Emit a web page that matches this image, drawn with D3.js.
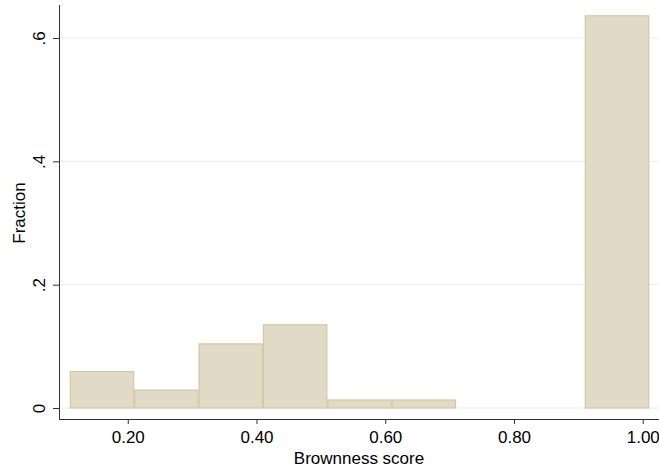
<!DOCTYPE html>
<html>
<head>
<meta charset="utf-8">
<script src="https://cdn.jsdelivr.net/npm/d3@7"></script>
<style>
	body { margin: 0; background: #fff; }
	text { font-family: "Liberation Sans", Arial, sans-serif; fill: #000; }
</style>
</head>
<body>
<script>
const binStarts = [0.11, 0.21, 0.31, 0.41, 0.51, 0.61, 0.71, 0.81, 0.91];
const fractions = [0.059, 0.029, 0.104, 0.135, 0.013, 0.013, 0, 0, 0.636];
const xTicks = [0.2, 0.4, 0.6, 0.8, 1.0];
const yTicks = [0, 0.2, 0.4, 0.6];
const binWidth = 0.1;

const width = 659, height = 467;

const svg = d3.select('body')
	.append('svg')
	.attr('width', width)
	.attr('height', height);

const xScale = d3.scaleLinear()
	.domain([0, 1])
	.range([-1, 642.75]);

const yScale = d3.scaleLinear()
	.domain([0, 0.6])
	.range([408, 38]);

// gridlines
svg.append('g')
	.selectAll('line')
	.data(yTicks)
	.enter().append('line')
	.attr('x1', 60)
	.attr('x2', 659)
	.attr('y1', d => yScale(d))
	.attr('y2', d => yScale(d))
	.attr('stroke', '#e9eff2')
	.attr('stroke-width', 1);

// bars
const bars = binStarts.map((b, i) => ({ x0: b, x1: b + binWidth, y: fractions[i] }))
	.filter(d => d.y > 0);

svg.append('g')
	.selectAll('rect')
	.data(bars)
	.enter().append('rect')
	.attr('x', d => xScale(d.x0) + 0.5)
	.attr('width', d => xScale(d.x1) - xScale(d.x0) - 1)
	.attr('y', d => yScale(d.y))
	.attr('height', d => yScale(0) - yScale(d.y))
	.attr('fill', '#e1dac7')
	.attr('stroke', '#d2c9a7')
	.attr('stroke-width', 1.2);

// y axis
const yAxis = d3.axisLeft(yScale)
	.tickValues(yTicks)
	.tickSize(6)
	.tickFormat(d => d === 0 ? '0' : d3.format('.1f')(d).replace(/^0/, ''));

const yg = svg.append('g')
	.attr('transform', 'translate(59,0)')
	.call(yAxis);
yg.select('.domain').attr('d', 'M0.5,5V419.5').attr('stroke', '#333');
yg.selectAll('.tick line').attr('stroke', '#333');
yg.selectAll('.tick text')
	.attr('font-size', 17)
	.attr('x', 0)
	.attr('y', 0)
	.attr('dy', 0)
	.attr('transform', 'translate(-14,0) rotate(-90)')
	.style('text-anchor', 'middle');

// x axis
const xAxis = d3.axisBottom(xScale)
	.tickValues(xTicks)
	.tickSize(5)
	.tickFormat(d3.format('.2f'));

const xg = svg.append('g')
	.attr('transform', 'translate(0,419)')
	.call(xAxis);
xg.select('.domain').attr('d', 'M59,0.5H659').attr('stroke', '#333');
xg.selectAll('.tick line').attr('stroke', '#333');
xg.selectAll('.tick text')
	.attr('font-size', 17)
	.attr('y', 24)
	.attr('dy', 0);

svg.append('text')
	.attr('x', 359)
	.attr('y', 464)
	.style('text-anchor', 'middle')
	.attr('font-size', 17)
	.text('Brownness score');

svg.append('text')
	.attr('transform', 'translate(25,213) rotate(-90)')
	.style('text-anchor', 'middle')
	.attr('font-size', 17)
	.text('Fraction');
</script>
</body>
</html>
